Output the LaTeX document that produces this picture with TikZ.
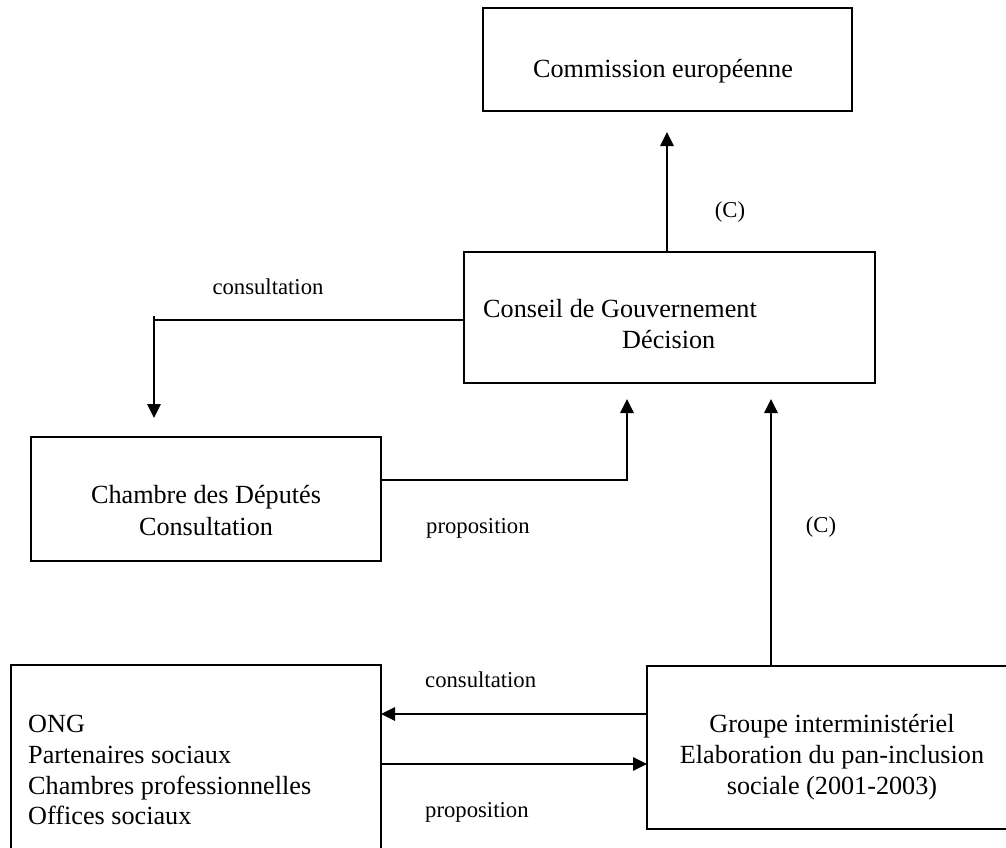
\documentclass[tikz,border=0pt]{standalone}
\usepackage{fontspec}
\setmainfont{Liberation Serif}
\usetikzlibrary{arrows.meta}
\begin{document}
\begin{tikzpicture}[x=1pt,y=-1pt,
  box/.style={draw,line width=1.4pt,inner sep=0pt,outer sep=0pt,anchor=north west},
  maintext/.style={inner sep=0pt,font=\fontsize{26.2}{30.7}\selectfont},
  lbl/.style={inner sep=0pt,font=\fontsize{22.7}{27}\selectfont},
  conn/.style={line width=1.4pt},
  arr/.style={line width=1.4pt,-{Triangle[length=14pt,width=13.5pt]}}]
\useasboundingbox (0,0) rectangle (1006,847);
\clip (0,0) rectangle (1006,847);
% boxes
\node[box,minimum width=369pt,minimum height=103pt] (comm) at (483,8) {};
\node[box,minimum width=411pt,minimum height=131pt] (cons) at (464,252) {};
\node[box,minimum width=350pt,minimum height=124pt] (cham) at (31,437) {};
\node[box,minimum width=370pt,minimum height=200pt] (ong) at (11,665) {};
\node[box,minimum width=400pt,minimum height=163pt] (grp) at (647,666) {};
% texts
\node[maintext,anchor=base] (tcomm) at (663,77) {Commission européenne};
\node[maintext,anchor=base west] (tcons1) at (483,317) {Conseil de Gouvernement};
\node[maintext,anchor=base west] (tcons2) at (622,348) {Décision};
\node[maintext,anchor=base] (tcham1) at (206,503) {Chambre des Députés};
\node[maintext,anchor=base] (tcham2) at (206,535) {Consultation};
\node[maintext,anchor=base west] (tong1) at (28,732) {ONG};
\node[maintext,anchor=base west] (tong2) at (28,763) {Partenaires sociaux};
\node[maintext,anchor=base west] (tong3) at (28,794) {Chambres professionnelles};
\node[maintext,anchor=base west] (tong4) at (28,824) {Offices sociaux};
\node[maintext,anchor=base] (tgrp1) at (832,732) {Groupe interministériel};
\node[maintext,anchor=base] (tgrp2) at (832,763) {Elaboration du pan-inclusion};
\node[maintext,anchor=base] (tgrp3) at (832,794) {sociale (2001-2003)};
% labels
\node[lbl,anchor=base] (lc1) at (730,217) {(C)};
\node[lbl,anchor=base] (lcons1) at (268,294) {consultation};
\node[lbl,anchor=base west] (lprop1) at (426,533) {proposition};
\node[lbl,anchor=base] (lc2) at (821,532) {(C)};
\node[lbl,anchor=base west] (lcons2) at (425,687) {consultation};
\node[lbl,anchor=base west] (lprop2) at (425,817) {proposition};
% free ends
\coordinate (e1) at (667,132);
\coordinate (k1) at (154,320);
\coordinate (e2) at (154,418);
\coordinate (k2) at (627,480);
\coordinate (e3) at (627,399);
\coordinate (e4) at (771,399);
% connectors
\draw[arr] (cons.north -| e1) -- (e1);
\draw[conn] (cons.west |- k1) -- (k1) -- ++(0,-4);
\draw[arr] (k1) -- (e2);
\draw[arr] (cham.east |- k2) -- (k2) -- (e3);
\draw[arr] (grp.north -| e4) -- (e4);
\draw[arr] ([yshift=-48pt]grp.north west) -- ([yshift=-49pt]ong.north east);
\draw[arr] ([yshift=-99pt]ong.north east) -- ([yshift=-98pt]grp.north west);
\end{tikzpicture}
\end{document}
